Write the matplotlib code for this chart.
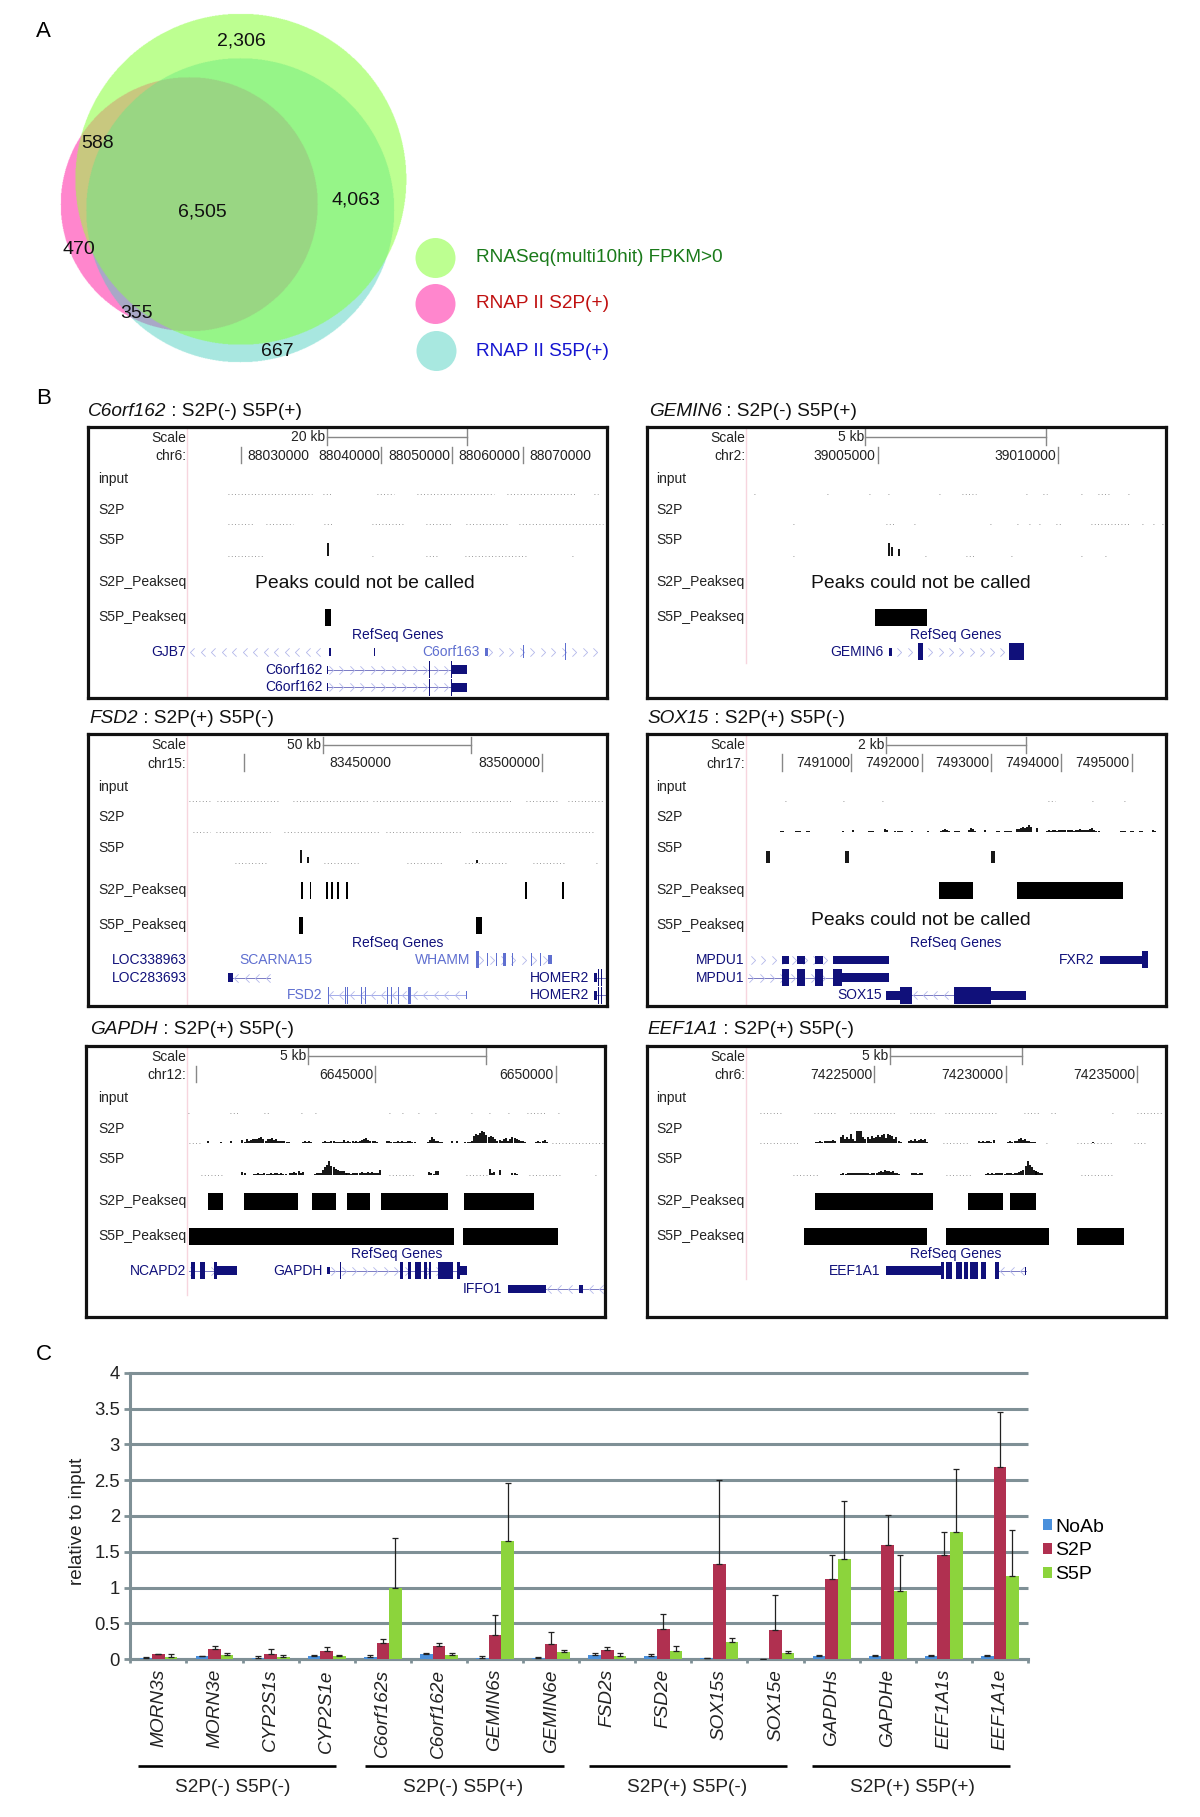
import numpy as np
import matplotlib
matplotlib.use('Agg')
import matplotlib.pyplot as plt
from matplotlib.patches import Circle, Rectangle
from matplotlib.path import Path

plt.rcParams['font.family'] = ['Liberation Sans', 'DejaVu Sans']

# ---- panel A, venn
venn_counts = ['2,306', '588', '6,505', '4,063', '470', '355', '667']
venn_xy = [(241, 41), (98, 143), (202, 212), (356, 200), (79, 250), (137, 314), (277, 352)]
venn_legend = ['RNASeq(multi10hit) FPKM>0', 'RNAP II S2P(+)', 'RNAP II S5P(+)']
venn_legend_col = ['#1a7a1a', '#c01010', '#1515d0']
venn_legend_fill = ['#BDFF91', '#FF86CD', '#A8E8E0']

# ---- panel B, browser tracks. x and y are read in browser window units
track_names = ['input', 'S2P', 'S5P', 'S2P_Peakseq', 'S5P_Peakseq']
DARK = '#10107a'
LIGHT = '#5f6fd0'
PALE = '#b4b8ea'
MID = '#7a7ac4'

# C6orf162
c6_title = ('C6orf162', ' : S2P(-) S5P(+)')
c6_ticks = [487, 888, 1090, 1290]
c6_tick_lab = [(683, '88030000'), (884, '88040000'), (1085, '88050000'), (1285, '88060000'), (1485, '88070000')]
c6_scale = ('20 kb', 733, 1133)
c6_input = [(450, 690), (722, 750), (875, 925), (990, 1210), (1245, 1440), (1495, 1505)]
c6_s2p = [(450, 525), (560, 635), (725, 750), (860, 955), (1015, 1090), (1130, 1250), (1280, 1520)]
c6_s5p = [(450, 550), (860, 866), (1015, 1050), (1125, 1300), (1430, 1440)]
c6_s2p_sig = []
c6_s5p_sig = [(735, [38])]
c6_s2p_peak = []
c6_s5p_peak = [(727, 745)]
c6_genes = [
    (770, 'GJB7', 332, DARK, 340, 730, '<', None, [(739, 743, 12), (866, 869, 12)]),
    (770, 'C6orf163', 1167, LIGHT, 1190, 1515, '>', None, [(1183, 1192, 12), (1262, 1264, 20), (1291, 1293, 20), (1412, 1415, 25)]),
    (824, 'C6orf162', 720, DARK, 735, 1088, '>', MID, [(734, 736, 12), (897, 899, 12), (1024, 1027, 26), (1086, 1088, 26), (1088, 1132, 13)]),
    (877, 'C6orf162', 720, DARK, 735, 1088, '>', MID, [(734, 736, 12), (1024, 1027, 26), (1086, 1088, 26), (1088, 1132, 13)]),
]

# GEMIN6
gem_title = ('GEMIN6', ' : S2P(-) S5P(+)')
gem_ticks = [690, 1213]
gem_tick_lab = [(683, '39005000'), (1208, '39010000')]
gem_scale = ('5 kb', 655, 1180)
gem_input = [(332, 340), (543, 550), (664, 670), (720, 728), (868, 875), (935, 975), (1120, 1127), (1170, 1182), (1282, 1290), (1330, 1365), (1417, 1423)]
gem_s2p = [(443, 450), (715, 740), (795, 800), (1016, 1021), (1095, 1100), (1130, 1134), (1160, 1164), (1208, 1225), (1310, 1420), (1458, 1462), (1490, 1494), (1515, 1520)]
gem_s5p = [(445, 450), (828, 834), (948, 972), (1078, 1084), (1280, 1288), (1350, 1356)]
gem_s2p_sig = []
gem_s5p_sig = [(723, [38]), (733, [26]), (752, [20])]
gem_s2p_peak = []
gem_s5p_peak = [(683, 833)]
gem_genes = [
    (770, 'GEMIN6', 708, DARK, 745, 1060, '>', None, [(722, 733, 12), (808, 822, 26), (1072, 1115, 26)]),
]

# FSD2
fsd_title = ('FSD2', ' : S2P(+) S5P(-)')
fsd_ticks = [497, 1345]
fsd_tick_lab = [(915, '83450000'), (1340, '83500000')]
fsd_scale = ('50 kb', 722, 1143)
fsd_input = [(340, 400), (420, 600), (635, 850), (865, 1260), (1300, 1390), (1420, 1520)]
fsd_s2p = [(350, 400), (415, 570), (610, 880), (900, 1115), (1145, 1490)]
fsd_s5p = [(470, 560), (725, 820), (960, 1060), (1125, 1250), (1320, 1415), (1500, 1504)]
fsd_s2p_sig = []
fsd_s5p_sig = [(660, [40]), (678, [18]), (1160, [10])]
fsd_s2p_peak = [(658, 663), (683, 688), (729, 735), (743, 749), (762, 768), (786, 793), (1298, 1303), (1402, 1408)]
fsd_s5p_peak = [(652, 663), (1158, 1175)]
fsd_genes = [
    (770, 'LOC338963', 332, DARK, 0, 0, None, None, []),
    (770, 'SCARNA15', 692, LIGHT, 0, 0, None, None, []),
    (770, 'WHAMM', 1142, LIGHT, 1165, 1370, '>', None, [(1158, 1167, 25), (1190, 1192, 20), (1215, 1217, 20), (1234, 1244, 20), (1260, 1262, 20), (1290, 1292, 20), (1315, 1317, 20), (1340, 1342, 20), (1362, 1373, 14)]),
    (824, 'LOC283693', 332, DARK, 466, 570, '<', MID, [(451, 466, 13), (558, 560, 12), (569, 571, 12)]),
    (824, 'HOMER2', 1480, DARK, 1503, 1525, None, MID, [(1495, 1503, 13), (1505, 1507, 26), (1515, 1517, 26)]),
    (877, 'FSD2', 720, LIGHT, 735, 1130, '<', '#a4acea', [(735, 737, 25), (785, 787, 25), (790, 792, 25), (820, 822, 25), (830, 832, 25), (842, 844, 25), (905, 907, 25), (915, 917, 25), (935, 937, 25), (965, 972, 25), (1129, 1131, 12)]),
    (877, 'HOMER2', 1480, DARK, 1503, 1525, None, MID, [(1495, 1503, 13), (1505, 1507, 26), (1515, 1517, 26)]),
]

# SOX15
sox_title = ('SOX15', ' : S2P(+) S5P(-)')
sox_ticks = [412, 614, 818, 1020, 1224, 1428]
sox_tick_lab = [(610, '7491000'), (813, '7492000'), (1015, '7493000'), (1218, '7494000'), (1423, '7495000')]
sox_scale = ('2 kb', 715, 1122)
sox_input = [(420, 430), (590, 598), (703, 713), (1185, 1205), (1313, 1322), (1405, 1414)]
sox_s2p = []
sox_s5p = []
sox_s2p_sig = [(410, [2, 2]), (452, [2, 2, 2]), (486, [2, 2]), (590, [2]), (618, [6]), (665, [2, 3, 2]), (712, [10, 5]), (742, [3, 3, 4, 3]), (790, [3]),
               (838, [2]), (875, [3, 5, 9, 6, 4]), (915, [2, 3, 2]), (955, [6, 11, 8, 4]), (1003, [6]), (1037, [2, 2]), (1060, [3, 3, 3, 3]),
               (1095, [8, 10, 12, 14, 12, 14, 22, 16]), (1153, [12]), (1182, [4, 5, 4, 5, 5, 4, 6, 5, 5, 6, 5, 6, 5, 4, 6, 7, 8, 6, 5, 6, 7, 8, 12, 7, 4, 3]),
               (1398, [4, 3, 3]), (1425, [3, 3]), (1452, [4, 3]), (1490, [5, 3])]
sox_s5p_sig = [(369, [38, 38]), (598, [38, 38]), (1023, [38, 38])]
sox_s2p_peak = [(870, 966), (1095, 1403)]
sox_s5p_peak = []
sox_genes = [
    (770, 'MPDU1', 302, DARK, 320, 560, '>', None, [(412, 432, 12), (457, 480, 12), (508, 532, 12), (562, 722, 12)]),
    (770, 'FXR2', 1320, DARK, 1495, 1496, '<', None, [(1335, 1476, 12), (1457, 1476, 26)]),
    (824, 'MPDU1', 302, DARK, 315, 562, '>', MID, [(412, 432, 25), (457, 480, 25), (508, 531, 25), (562, 588, 25), (588, 722, 13)]),
    (877, 'SOX15', 702, DARK, 790, 912, '<', MID, [(716, 755, 13), (755, 790, 25), (912, 1020, 25), (1020, 1120, 13)]),
]

# GAPDH
gap_title = ('GAPDH', ' : S2P(+) S5P(-)')
gap_ticks = [360, 871, 1385]
gap_tick_lab = [(867, '6645000'), (1378, '6650000')]
gap_scale = ('5 kb', 680, 1187)
gap_input = [(338, 342), (458, 480), (555, 570), (660, 666), (698, 704), (910, 915), (948, 953), (992, 998), (1040, 1046), (1145, 1150), (1195, 1200), (1250, 1256), (1303, 1355), (1392, 1400)]
gap_s2p = [(340, 370), (1375, 1520)]
gap_s5p = [(375, 440), (910, 985), (1130, 1190), (1310, 1400), (1498, 1503)]
gap_s2p_sig = [(395, [8]), (432, [3]), (460, [6]),
               (492, [10, 4, 12, 8, 10, 12, 14, 12, 16, 18, 14, 6, 14, 12, 16, 10, 12, 8, 6, 8, 6, 4, 5]),
               (665, [4, 6, 3, 7, 5]), (722, [5, 7, 4, 3, 6, 8, 5, 4]), (770, [5, 3, 9, 4, 6, 3, 8, 5]),
               (815, [8, 4, 6, 10, 12, 16, 10, 8, 6, 7, 5]), (905, [6, 8, 5, 3, 5, 8, 4, 6, 3, 5, 7, 6, 4, 3]),
               (1020, [5, 10, 18, 12, 8, 6, 3, 5]), (1090, [6]), (1103, [8]),
               (1128, [4, 5, 4, 8, 22, 28, 24, 30, 36, 34, 26, 20, 22, 18, 14, 6]),
               (1226, [10, 6, 14, 16, 8, 14, 18, 16, 14, 10, 8, 6, 5]), (1330, [4, 8, 3, 6, 10, 4])]
gap_s5p_sig = [(492, [8, 4]), (525, [3, 3, 4, 3, 3, 4, 3, 3, 4, 3, 5, 4, 3, 4, 3, 3]), (628, [4, 6, 8, 6, 10, 5, 7]),
               (698, [3, 4, 5, 6, 14, 22, 30, 40, 26, 22, 18, 14, 12, 10, 12, 6]),
               (790, [6, 4, 3, 6, 4, 5, 6, 7, 5, 6, 8, 6, 7, 5, 4, 5]), (883, [14]),
               (1025, [8, 4, 2, 12, 10]), (1197, [16, 6, 8]), (1228, [14]), (1262, [4, 4, 3])]
gap_s2p_peak = [(393, 438), (496, 650), (690, 758), (789, 857), (886, 1079), (1124, 1323)]
gap_s5p_peak = [(340, 1095), (1120, 1392)]
gap_genes = [
    (770, 'NCAPD2', 332, DARK, 340, 420, '>', MID, [(346, 358, 25), (370, 385, 25), (412, 420, 25), (420, 477, 13)]),
    (770, 'GAPDH', 720, DARK, 743, 1130, '>', MID, [(733, 743, 10), (770, 773, 25), (940, 950, 25), (965, 973, 25), (983, 1001, 25), (1010, 1017, 25), (1025, 1030, 25), (1050, 1093, 25), (1103, 1113, 25), (1113, 1132, 13)]),
    (824, 'IFFO1', 1232, DARK, 1357, 1520, '<', MID, [(1250, 1357, 12), (1452, 1464, 12)]),
]

# EEF1A1
eef_title = ('EEF1A1', ' : S2P(+) S5P(-)')
eef_ticks = [680, 1062, 1445]
eef_tick_lab = [(675, '74225000'), (1057, '74230000'), (1440, '74235000')]
eef_scale = ('5 kb', 727, 1110)
eef_input = [(350, 412), (505, 565), (610, 745), (785, 855), (885, 1035), (1115, 1160), (1195, 1210), (1372, 1378), (1445, 1515)]
eef_s2p = [(350, 465), (880, 955), (1180, 1185), (1270, 1370), (1435, 1470)]
eef_s5p = [(445, 520), (890, 965), (1280, 1375)]
eef_s2p_sig = [(512, [5, 4, 6, 5, 7, 6, 8, 7, 10, 8]),
               (583, [18, 26, 12, 20, 14, 28, 12, 8, 36, 38, 38, 18, 14, 20, 12, 22, 16, 20, 24, 18, 26, 28, 16, 28, 26, 22, 14, 18, 8, 4]),
               (780, [8, 10, 7, 12, 8, 10, 14, 9, 12, 5]),
               (985, [8, 4, 6, 3, 6, 8, 5, 10]), (1070, [4, 6, 5, 8, 6, 12, 16, 10, 12, 6, 8, 5, 4, 3]), (1315, [4])]
eef_s5p_sig = [(585, [3, 4, 3, 5, 4, 5, 4, 6, 4, 5, 6, 5, 4, 5, 3, 4, 6, 5, 8, 12, 8, 14, 10, 12, 8, 10, 6, 5, 3]),
               (790, [4, 6, 4, 3, 5, 4]), (1005, [3, 4, 3, 4, 3, 4, 5, 4, 5, 3, 4, 5, 4, 3]), (1090, [4, 5, 8, 10, 14, 26, 40, 30, 22, 14, 10]),
               (1150, [10, 8, 5, 4])]
eef_s2p_peak = [(507, 852), (953, 1054), (1075, 1150)]
eef_s5p_peak = [(475, 835), (889, 1188), (1270, 1405)]
eef_genes = [
    (770, 'EEF1A1', 698, DARK, 1043, 1120, '<', MID, [(716, 875, 13), (875, 884, 25), (889, 907, 25), (917, 935, 25), (942, 954, 25), (958, 983, 25), (990, 1004, 25), (1032, 1043, 25), (1118, 1120, 12)]),
]

# ---- panel C, bars
categories = ['MORN3s', 'MORN3e', 'CYP2S1s', 'CYP2S1e', 'C6orf162s', 'C6orf162e', 'GEMIN6s', 'GEMIN6e',
              'FSD2s', 'FSD2e', 'SOX15s', 'SOX15e', 'GAPDHs', 'GAPDHe', 'EEF1A1s', 'EEF1A1e']
noab = [.02, .04, .02, .04, .03, .07, .025, .015, .065, .05, .015, .0, .04, .04, .04, .04]
noab_top = [.03, .05, .045, .055, .06, .09, .05, .03, .085, .07, .025, .0, .055, .065, .06, .06]
s2p = [.07, .15, .08, .115, .23, .185, .345, .21, .125, .42, 1.33, .405, 1.115, 1.595, 1.45, 2.68]
s2p_top = [.08, .19, .14, .175, .29, .23, .62, .375, .175, .63, 2.5, .90, 1.45, 2.01, 1.77, 3.45]
s5p = [.035, .06, .03, .04, .99, .06, 1.65, .095, .05, .115, .24, .085, 1.40, .95, 1.77, 1.16]
s5p_top = [.07, .09, .065, .065, 1.69, .09, 2.46, .135, .085, .19, .30, .12, 2.21, 1.45, 2.66, 1.80]
series_names = ['NoAb', 'S2P', 'S5P']
series_col = ['#4a90dc', '#b03050', '#8cd43c']
y_ticks = [0, .5, 1, 1.5, 2, 2.5, 3, 3.5, 4]
y_tick_lab = ['0', '0.5', '1', '1.5', '2', '2.5', '3', '3.5', '4']
groups = ['S2P(-) S5P(-)', 'S2P(-) S5P(+)', 'S2P(+) S5P(-)', 'S2P(+) S5P(+)']
group_lines = [(137.5, 335.7), (365, 563.6), (589, 787), (811.8, 1010)]
group_text_x = [233, 463, 687, 912]

W, H = 1200, 1817
GRID = '#7f9096'
fig = plt.figure(figsize=(W / 100, H / 100), dpi=100)

bg = fig.add_axes([0, 0, 1, 1], zorder=0)
bg.set_xlim(0, W)
bg.set_ylim(H, 0)
bg.axis('off')

# venn, every region gets its own colour
xx, yy = np.meshgrid(np.arange(50, 420, .5), np.arange(5, 375, .5))
def inside(cx, cy, w, h):
    return ((xx - cx) / (w / 2)) ** 2 + ((yy - cy) / (h / 2)) ** 2 <= 1
g = inside(240.6, 179, 331, 331)
t = inside(240, 210, 308, 304)
p = inside(189, 204, 257, 254)
venn_regions = [(g, '#BDFF91'), (t, '#A8E8E0'), (p, '#FF86CD'), (g & t, '#96F588'), (g & p, '#C8C87F'),
                (t & p, '#A9A8C7'), (g & t & p, '#99D683')]
img = np.ones(xx.shape + (3,))
for mask, col in venn_regions:
    img[mask] = matplotlib.colors.to_rgb(col)
bg.imshow(img, extent=(50, 420, 375, 5), aspect='auto', interpolation='antialiased', zorder=1)
bg.set_xlim(0, W)
bg.set_ylim(H, 0)
for (x, y), s in zip(venn_xy, venn_counts):
    bg.text(x, y, s, fontsize=14, ha='center', va='center', color='#111111', zorder=3)
for y, lab, col, fill, cx in zip([258, 304, 351], venn_legend, venn_legend_col, venn_legend_fill, [435.5, 435.5, 436.5]):
    bg.add_patch(Circle((cx, y), 20, fc=fill, ec='none', zorder=2))
    bg.text(476, y, lab, fontsize=13.7, color=col, va='center', zorder=3)

for lab, y in zip('ABC', [37, 404, 1360]):
    bg.text(36, y, lab, fontsize=16, va='baseline')

renderer = fig.canvas.get_renderer()

def title(x, y, parts):
    t1 = bg.text(x, y, parts[0], fontsize=13.7, style='italic', va='baseline', color='#111111')
    x1 = t1.get_window_extent(renderer).x1
    bg.text(x1, y, parts[1], fontsize=13.7, va='baseline', color='#111111')

def gene(ax, row):
    y, name, name_x, col, x0, x1, way, line_col, exons = row
    ax.text(name_x, y, name, fontsize=10, color=col, ha='right', va='center')
    if line_col:
        ax.plot([x0, x1], [y, y], color=line_col, lw=.7, zorder=2)
    if way:
        vert = [(-.5, -1), (.5, 0), (-.5, 1)] if way == '>' else [(.5, -1), (-.5, 0), (.5, 1)]
        chev = Path(vert, [Path.MOVETO, Path.LINETO, Path.LINETO])
        xs = np.arange(x0 + 8, x1, 30)
        ax.plot(xs, np.full(len(xs), y), ls='none', marker=chev, ms=6, mfc='none', mec=PALE, mew=.6, zorder=2)
    fill = LIGHT if col == LIGHT else DARK
    for a, b, h in exons:
        ax.add_patch(Rectangle((a, y - h), b - a, 2 * h, fc=fill, ec='none', zorder=3))

def panel(box, xlim, ttl, ttl_xy, ticks, tick_lab, scale, inp, s2p_d, s5p_d, s2p_sig, s5p_sig, s2p_pk, s5p_pk, genes,
          lab_x, lab_r, pink_end, ref_x, peak_txt):
    x0, y0, x1, y1 = box
    ax = fig.add_axes([x0 / W, 1 - y1 / H, (x1 - x0) / W, (y1 - y0) / H], zorder=2)
    ax.set_xlim(*xlim)
    ax.set_ylim(908, 95)
    ax.set_xticks([])
    ax.set_yticks([])
    for sp in ax.spines.values():
        sp.set_linewidth(2.3)
        sp.set_color('#111111')
    ax.plot([lab_r + 3, lab_r + 3], [100, pink_end], color='#f7d5de', lw=1)
    ax.text(lab_r, 128, 'Scale', fontsize=10, ha='right', va='center', color='#222222')
    ax.text(lab_r, 184, ttl_chr[ttl[0]], fontsize=10, ha='right', va='center', color='#222222')
    for x in ticks:
        ax.plot([x, x], [155, 205], color='#888888', lw=1)
    for x, s in tick_lab:
        ax.text(x, 182, s, fontsize=10, ha='right', va='center', color='#222222')
    lab, a, b = scale
    ax.plot([a, b], [127, 127], color='#888888', lw=1)
    ax.plot([a, a], [103, 150], color='#888888', lw=1)
    ax.plot([b, b], [103, 150], color='#888888', lw=1)
    ax.text(a - 5, 126, lab, fontsize=10, ha='right', va='center', color='#222222')
    for s, y in zip(track_names, [253, 344, 436, 562, 667]):
        ax.text(lab_x, y, s, fontsize=10, va='center', color='#222222')
    for segs, y in zip([inp, s2p_d, s5p_d], [296, 388, 482]):
        for a, b in segs:
            ax.plot([a, b], [y, y], color='#777777', lw=.6, ls=(0, (1, 3)))
    for clusters, y in zip([s2p_sig, s5p_sig], [388, 482]):
        for start, hs in clusters:
            xs = start + 6 * np.arange(len(hs))
            ax.vlines(xs, y, y - np.array(hs), color='black', lw=1.3)
    for pks, (a, b) in zip([s2p_pk, s5p_pk], [(536, 588), (641, 692)]):
        for l, r in pks:
            ax.add_patch(Rectangle((l, a), r - l, b - a, fc='black', ec='none', zorder=3))
    if peak_txt:
        ax.text(peak_txt[0], peak_txt[1], 'Peaks could not be called', fontsize=13.9, va='center', color='#111111')
    ax.text(ref_x, 720, 'RefSeq Genes', fontsize=10, ha='center', va='center', color=DARK)
    for row in genes:
        gene(ax, row)
    title(ttl_xy[0], ttl_xy[1], ttl)

ttl_chr = {'C6orf162': 'chr6:', 'GEMIN6': 'chr2:', 'FSD2': 'chr15:', 'SOX15': 'chr17:', 'GAPDH': 'chr12:', 'EEF1A1': 'chr6:'}
panel((87.5, 426.7, 606.7, 697.7), (50, 1530), c6_title, (87.5, 416), c6_ticks, c6_tick_lab, c6_scale, c6_input, c6_s2p, c6_s5p,
      c6_s2p_sig, c6_s5p_sig, c6_s2p_peak, c6_s5p_peak, c6_genes, 80, 332, 905, 933, (528, 566))
panel((646.9, 426.7, 1166, 697.7), (20, 1528), gem_title, (648.6, 416), gem_ticks, gem_tick_lab, gem_scale, gem_input, gem_s2p, gem_s5p,
      gem_s2p_sig, gem_s5p_sig, gem_s2p_peak, gem_s5p_peak, gem_genes, 48, 305, 805, 918, (498, 566))
panel((87.5, 734.3, 606.7, 1005.7), (50, 1530), fsd_title, (89.3, 723), fsd_ticks, fsd_tick_lab, fsd_scale, fsd_input, fsd_s2p, fsd_s5p,
      fsd_s2p_sig, fsd_s5p_sig, fsd_s2p_peak, fsd_s5p_peak, fsd_genes, 80, 332, 905, 933, None)
panel((646.9, 734.3, 1166, 1005.7), (20, 1528), sox_title, (647.6, 723), sox_ticks, sox_tick_lab, sox_scale, sox_input, sox_s2p, sox_s5p,
      sox_s2p_sig, sox_s5p_sig, sox_s2p_peak, sox_s5p_peak, sox_genes, 48, 305, 905, 918, (498, 654))
panel((86, 1045.7, 605, 1316.7), (46, 1526), gap_title, (90, 1034), gap_ticks, gap_tick_lab, gap_scale, gap_input, gap_s2p, gap_s5p,
      gap_s2p_sig, gap_s5p_sig, gap_s2p_peak, gap_s5p_peak, gap_genes, 80, 332, 842, 933, None)
panel((646.9, 1045.7, 1166, 1316.7), (20, 1528), eef_title, (647.6, 1034), eef_ticks, eef_tick_lab, eef_scale, eef_input, eef_s2p, eef_s5p,
      eef_s2p_sig, eef_s5p_sig, eef_s2p_peak, eef_s5p_peak, eef_genes, 48, 305, 795, 918, None)

# bar chart
ax = fig.add_axes([130.4 / W, 1 - 1659.3 / H, (1027.9 - 130.4) / W, (1659.3 - 1372.7) / H], zorder=2)
x = np.arange(len(categories)) + .5
wd = .225
for off, vals, tops, name, col in zip([-wd, 0, wd], [noab, s2p, s5p], [noab_top, s2p_top, s5p_top], series_names, series_col):
    vals = np.array(vals)
    err = np.array(tops) - vals
    ax.bar(x + off, vals, wd, color=col, label=name, zorder=3)
    ax.errorbar(x + off, vals, yerr=[np.zeros(len(err)), err], fmt='none', ecolor='#222222', elinewidth=.9,
                capsize=2.2, capthick=.9, zorder=4)
ax.set_xlim(0, 16)
ax.set_ylim(0, 4)
for y in y_ticks:
    ax.plot([0, 16], [y, y], color=GRID, lw=2.2, clip_on=False, zorder=1, solid_capstyle='butt')
for sp in ['top', 'right']:
    ax.spines[sp].set_visible(False)
for sp in ['left', 'bottom']:
    ax.spines[sp].set_color(GRID)
    ax.spines[sp].set_linewidth(2.2)
ax.set_yticks(y_ticks)
ax.set_yticklabels(y_tick_lab, fontsize=13.3, color='#222222')
ax.tick_params(axis='y', length=4.5, width=2, color=GRID, pad=3)
ax.set_xticks(np.arange(17))
ax.set_xticklabels([])
ax.tick_params(axis='x', which='major', length=3, width=2, color=GRID)
ax.set_xticks(x, minor=True)
ax.set_xticklabels(categories, minor=True, rotation=90, fontsize=13.7, style='italic', color='#222222')
ax.tick_params(axis='x', which='minor', length=0, pad=7)
ax.patch.set_alpha(0)
handles, labels = ax.get_legend_handles_labels()
ax.legend(handles, labels, loc='center left', bbox_to_anchor=(1.0163, .378), frameon=False, fontsize=14, handlelength=.5,
          handleheight=.5, handletextpad=.15, labelspacing=.35, borderpad=0, borderaxespad=0)

bg.text(77.5, 1521.7, 'relative to input', fontsize=13.6, rotation=90, ha='center', va='center', color='#222222')
for (a, b), s, tx in zip(group_lines, groups, group_text_x):
    bg.plot([a, b], [1766, 1766], color='black', lw=1.9, solid_capstyle='butt')
    bg.text(tx, 1787.7, s, fontsize=13.7, ha='center', va='center', color='#222222')
bg.set_xlim(0, W)
bg.set_ylim(H, 0)

fig.savefig('out.png', dpi=100)
